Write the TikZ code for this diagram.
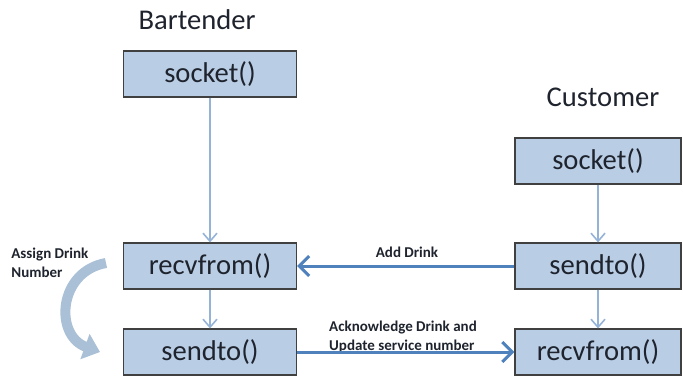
\documentclass[tikz,border=0pt]{standalone}
\usepackage{fontspec}
\setmainfont{Carlito}
\usetikzlibrary{arrows.meta}
\definecolor{boxfill}{RGB}{185,205,229}
\definecolor{boxline}{RGB}{64,64,64}
\definecolor{thinline}{RGB}{149,179,215}
\definecolor{msgline}{RGB}{79,129,189}
\definecolor{assignfill}{RGB}{170,192,214}
\definecolor{txt}{RGB}{30,35,45}
\begin{document}
\begin{tikzpicture}[x=0.5pt, y=-0.5pt,
	call/.style = {draw=boxline, fill=boxfill, line width=0.6pt, minimum height=23pt, inner sep=0pt, font=\fontsize{14.3}{16}\selectfont, text=txt},
	bartender/.style = {call, minimum width=86.5pt},
	customer/.style = {call, minimum width=83pt},
	role/.style = {font=\fontsize{14.3}{16}\selectfont, text=txt},
	msg/.style = {font=\bfseries\fontsize{7.5}{9.5}\selectfont, text=txt, align=left, inner sep=0pt},
	flow/.style = {draw=thinline, line width=0.8pt, -{Straight Barb[length=4pt,width=7pt]}},
	send/.style = {draw=msgline, line width=1.5pt, -{Straight Barb[length=5pt,width=10pt]}},
	assign/.style = {draw=assignfill, line width=5pt, -{Triangle[length=8pt,width=13pt]}}]
		\useasboundingbox (0,0) rectangle (683,377);
		\node[role] (bt) at (197,20) {Bartender};
		\node[bartender] (b1) at (210,74) {socket()};
		\node[bartender] (b2) at (210,266) {recvfrom()};
		\node[bartender] (b3) at (210,352) {sendto()};
		\node[role] (ct) at (603,97) {Customer};
		\node[customer] (c1) at (598,161) {socket()};
		\node[customer] (c2) at (598,266) {sendto()};
		\node[customer] (c3) at (598,352) {recvfrom()};
		\node[msg] (m1) at (407,252) {Add Drink};
		\node[msg] (m2) at (403,337) {Acknowledge Drink and\\Update service number};
		\node[msg, anchor=west] (m3) at (11,263) {Assign Drink\\Number};
		\coordinate (a1) at (106,263);
		\coordinate (a2) at (100,352);
		\draw[flow] (b1) -- (b2);
		\draw[flow] (b2) -- (b3);
		\draw[flow] (c1) -- (c2);
		\draw[flow] (c2) -- (c3);
		\draw[send] (c2) -- (b2);
		\draw[send] (b3) -- (c3);
		\draw[assign] (a1) to [out=190, in=160, looseness=1.4] (a2);
	\end{tikzpicture}
\end{document}
